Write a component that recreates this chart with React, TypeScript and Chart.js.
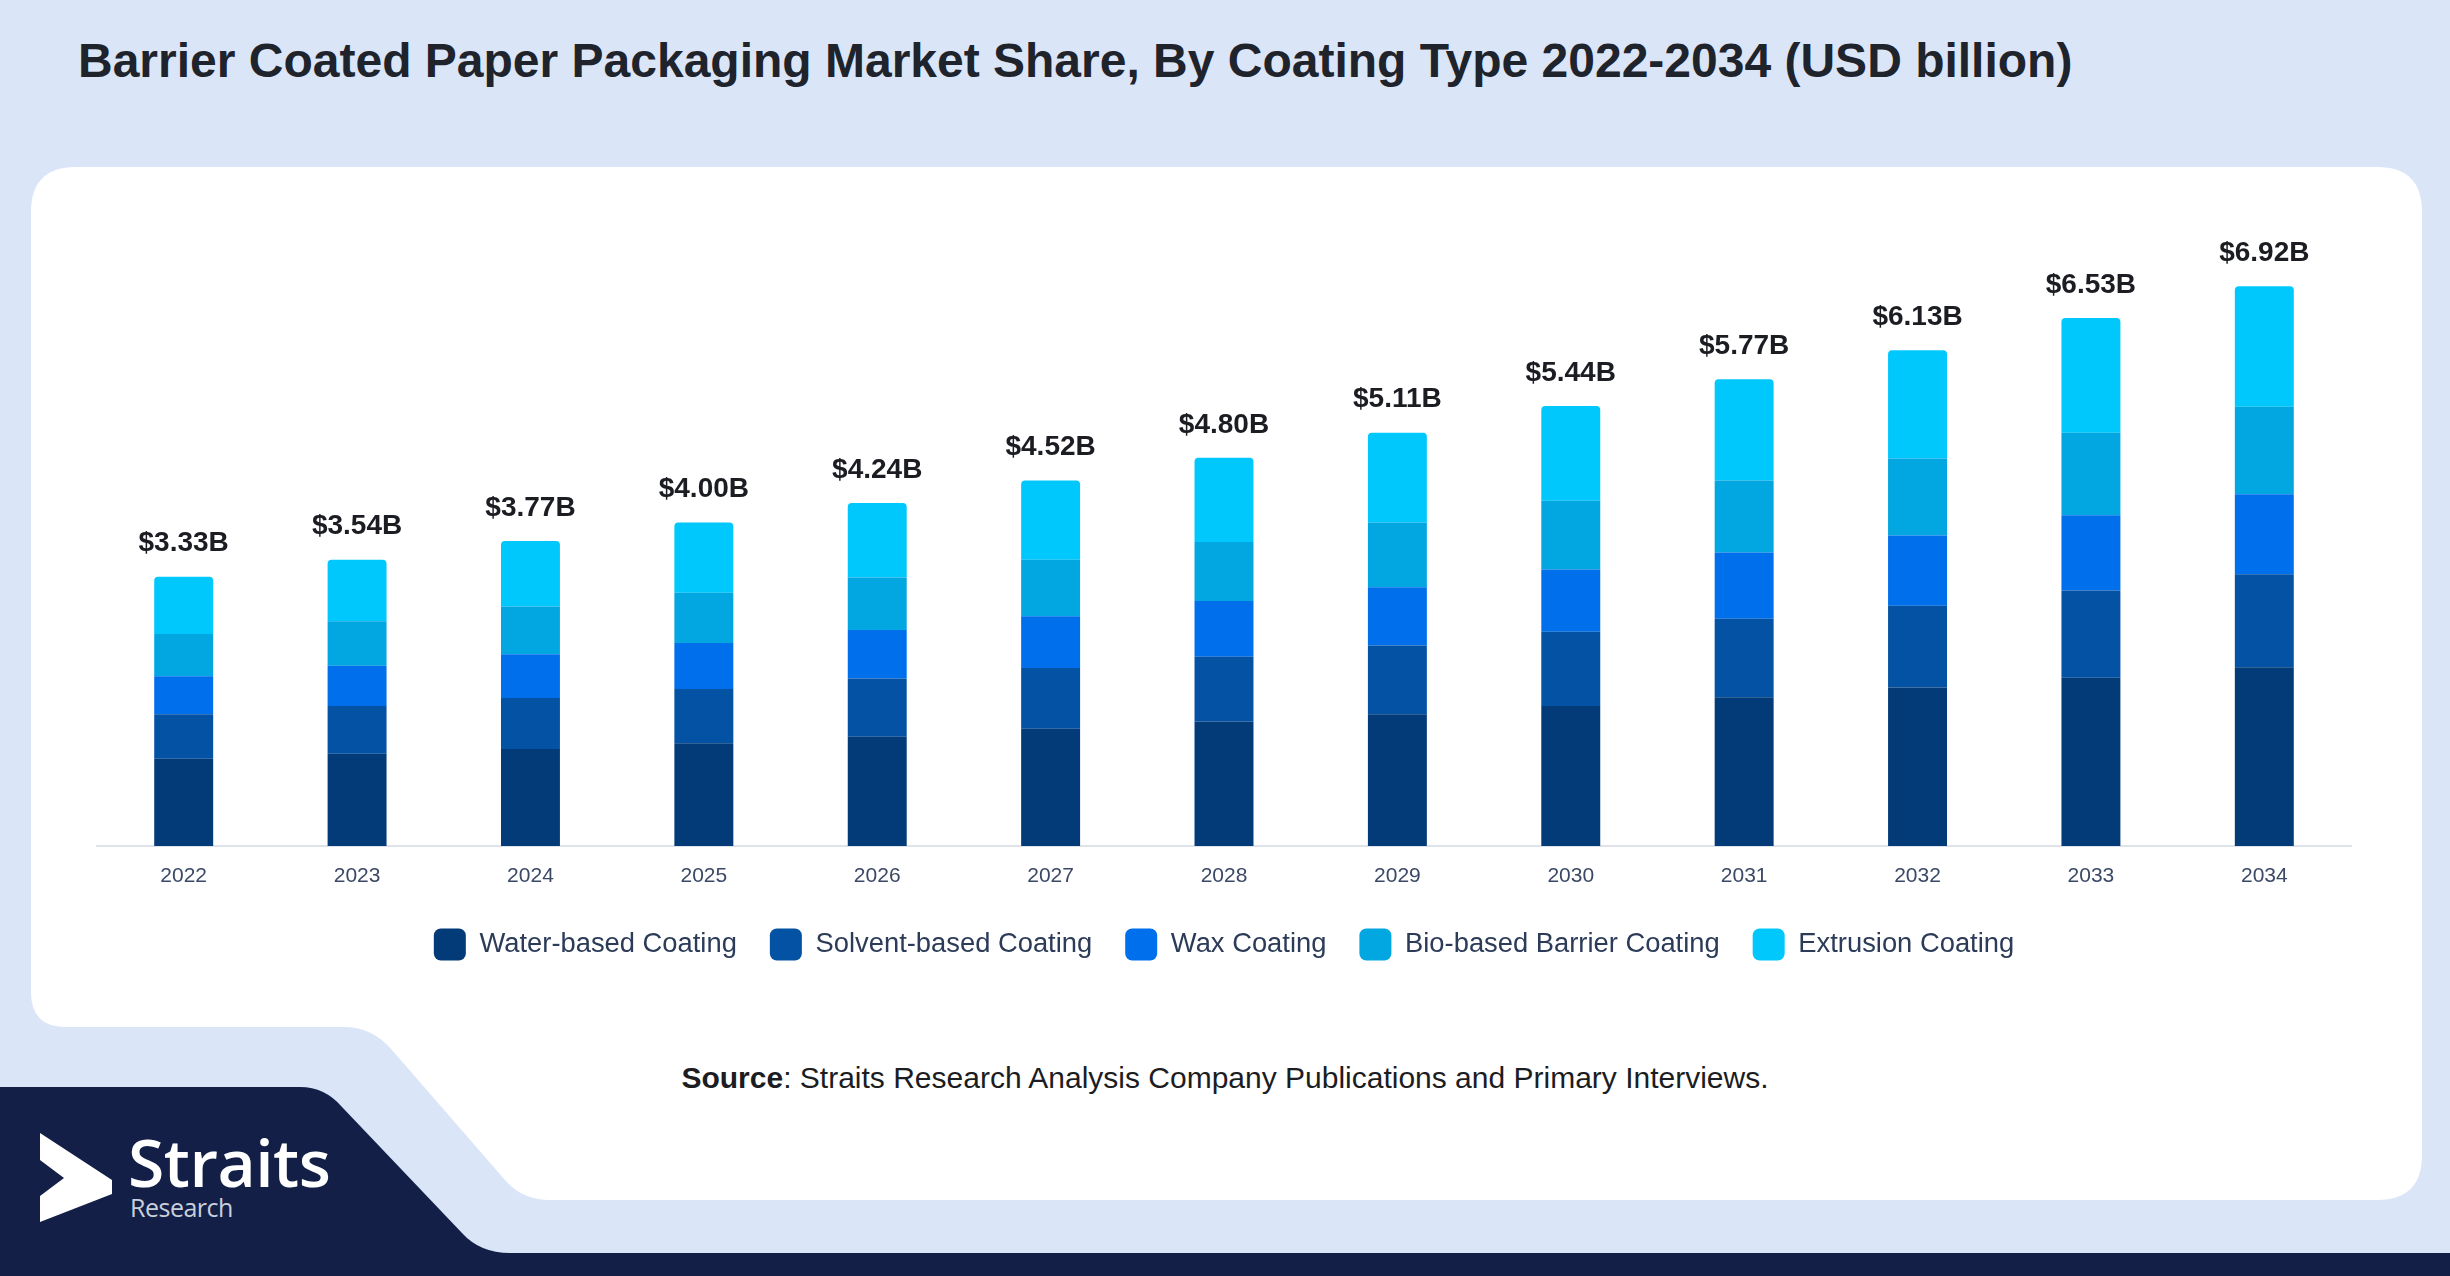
import React, { useEffect, useRef } from "react";
import { Chart, registerables } from "chart.js";

Chart.register(...registerables);

const years = ["2022", "2023", "2024", "2025", "2026", "2027", "2028", "2029", "2030", "2031", "2032", "2033", "2034"];
const waterBased = [1.08, 1.14, 1.2, 1.27, 1.35, 1.45, 1.54, 1.63, 1.73, 1.84, 1.96, 2.08, 2.21];
const solventBased = [0.55, 0.59, 0.63, 0.67, 0.72, 0.75, 0.8, 0.85, 0.92, 0.97, 1.01, 1.08, 1.15];
const waxCoating = [0.47, 0.5, 0.54, 0.57, 0.6, 0.64, 0.69, 0.72, 0.77, 0.82, 0.87, 0.93, 0.99];
const bioBased = [0.52, 0.55, 0.59, 0.62, 0.65, 0.7, 0.73, 0.8, 0.85, 0.89, 0.95, 1.02, 1.08];
const extrusion = [0.71, 0.76, 0.81, 0.87, 0.92, 0.98, 1.04, 1.11, 1.17, 1.25, 1.34, 1.42, 1.49];
const totals = [3.33, 3.54, 3.77, 4.0, 4.24, 4.52, 4.8, 5.11, 5.44, 5.77, 6.13, 6.53, 6.92];
const seriesNames = ["Water-based Coating", "Solvent-based Coating", "Wax Coating", "Bio-based Barrier Coating", "Extrusion Coating"];
const seriesColors = ["#033b79", "#0452a3", "#006fec", "#02a6e1", "#00c8fd"];

const FONT = "'Liberation Sans', Arial, Helvetica, sans-serif";

export default function App() {
  const ref = useRef<HTMLCanvasElement>(null);

  useEffect(() => {
    const seriesValues = [waterBased, solventBased, waxCoating, bioBased, extrusion];
    const totalsPlugin = {
      id: "totalsLabels",
      afterDatasetsDraw(chart: any) {
        const ctx = chart.ctx;
        const meta = chart.getDatasetMeta(chart.data.datasets.length - 1);
        ctx.save();
        ctx.font = `bold 28px ${FONT}`;
        ctx.fillStyle = "#1b1d22";
        ctx.textAlign = "center";
        ctx.textBaseline = "middle";
        meta.data.forEach((bar: any, i: number) => {
          ctx.fillText(`$${totals[i].toFixed(2)}B`, bar.x, bar.y - 33);
        });
        ctx.restore();
      },
    };

    const chart = new Chart(ref.current as HTMLCanvasElement, {
      type: "bar",
      data: {
        labels: years,
        datasets: seriesValues.map((vals, i) => ({
          label: seriesNames[i],
          data: vals,
          backgroundColor: seriesColors[i],
          borderWidth: 0,
          categoryPercentage: 1,
          barPercentage: 0.34,
          borderRadius: i === seriesValues.length - 1 ? { topLeft: 4, topRight: 4, bottomLeft: 0, bottomRight: 0 } : 0,
          borderSkipped: i === seriesValues.length - 1 ? false : "start",
        })),
      },
      options: {
        animation: false,
        responsive: false,
        devicePixelRatio: 1,
        layout: { padding: { top: 199, left: 97, right: 99, bottom: 29.5 } },
        plugins: {
          tooltip: { enabled: false },
          legend: {
            position: "bottom",
            labels: {
              boxWidth: 32,
              boxHeight: 32,
              useBorderRadius: true,
              borderRadius: 7,
              padding: 33,
              color: "#2b3b58",
              font: { family: FONT, size: 27.35 },
            },
          },
        },
        scales: {
          x: {
            stacked: true,
            grid: { display: false, drawTicks: false },
            border: { display: true, color: "#dfe3e9", width: 2 },
            ticks: { color: "#3b4966", font: { family: FONT, size: 21 }, padding: 18 },
            afterFit: (scale: any) => {
              scale.height = 49.5;
            },
          },
          y: { stacked: true, display: false, min: 0, max: 8 },
        },
      },
      plugins: [totalsPlugin],
    } as any);

    return () => chart.destroy();
  }, []);

  return (
    <div style={{ position: "absolute", left: 0, top: 0, width: 2450, height: 1276, background: "#dae6f8", overflow: "hidden" }}>
      <svg width={2450} height={1276} style={{ position: "absolute", left: 0, top: 0 }}>
        <path
          d="M 76 167 L 2377 167 Q 2422 167 2422 212 L 2422 1155 Q 2422 1200 2377 1200 L 550 1200 Q 522 1200 505 1180 L 392 1050 Q 372 1027 345 1027 L 66 1027 Q 31 1027 31 992 L 31 212 Q 31 167 76 167 Z"
          fill="#ffffff"
        />
        <path
          d="M 0 1087 L 300 1087 Q 325 1087 342 1107 L 462 1233 Q 480 1253 510 1253 L 2450 1253 L 2450 1276 L 0 1276 Z"
          fill="#131f47"
        />
        <polygon points="40,1133 112,1180 112,1194 40,1222 40,1196 64,1178 40,1160" fill="#ffffff" />
      </svg>
      <div
        style={{
          position: "absolute",
          left: 78,
          top: 37,
          fontFamily: FONT,
          fontWeight: 700,
          fontSize: 48,
          lineHeight: 1,
          color: "#1f232c",
          whiteSpace: "nowrap",
        }}
      >
        Barrier Coated Paper Packaging Market Share, By Coating Type 2022-2034 (USD billion)
      </div>
      <canvas
        ref={ref}
        width={2450}
        height={1000}
        style={{ position: "absolute", left: 0, top: 0, width: 2450, height: 1000 }}
      />
      <div
        style={{
          position: "absolute",
          left: 0,
          width: 2450,
          top: 1063,
          textAlign: "center",
          fontFamily: FONT,
          fontSize: 30,
          lineHeight: 1,
          color: "#1b1d22",
          whiteSpace: "nowrap",
        }}
      >
        <b>Source</b>: Straits Research Analysis Company Publications and Primary Interviews.
      </div>
      <div
        style={{
          position: "absolute",
          left: 128,
          top: 1128,
          fontFamily: "'Open Sans', 'Noto Sans', sans-serif",
          fontWeight: 600,
          fontSize: 66,
          lineHeight: 1,
          color: "#ffffff",
          letterSpacing: -0.5,
        }}
      >
        Straits
      </div>
      <div
        style={{
          position: "absolute",
          left: 130,
          top: 1195,
          fontFamily: "'Open Sans', 'Noto Sans', sans-serif",
          fontWeight: 400,
          fontSize: 25,
          lineHeight: 1,
          color: "#c9cfdc",
          letterSpacing: -0.5,
        }}
      >
        Research
      </div>
    </div>
  );
}
